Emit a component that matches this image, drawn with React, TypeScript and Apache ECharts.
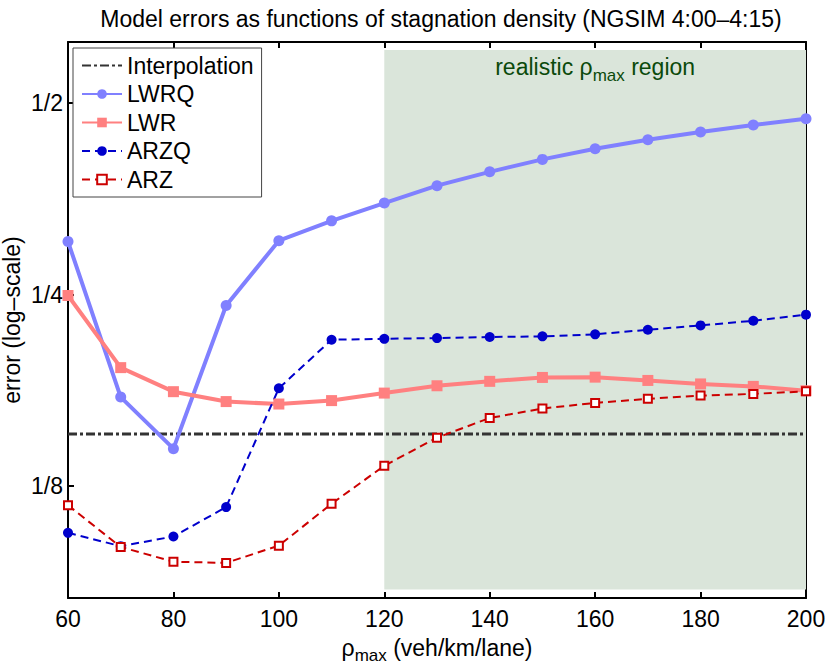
import React, { useEffect, useRef } from "react";
import * as echarts from "echarts";

const rhoMax = [60, 70, 80, 90, 100, 110, 120, 130, 140, 150, 160, 170, 180, 190, 200];
const lwrq = [0.303, 0.1726, 0.1432, 0.2404, 0.304, 0.3266, 0.3483, 0.371, 0.39, 0.408, 0.424, 0.438, 0.4506, 0.462, 0.4727];
const lwr = [0.2493, 0.192, 0.176, 0.1698, 0.1683, 0.1704, 0.1751, 0.1798, 0.1827, 0.1853, 0.1855, 0.1833, 0.181, 0.1794, 0.1766];
const arzq = [0.1056, 0.1006, 0.1042, 0.1159, 0.1782, 0.2124, 0.2131, 0.2137, 0.2145, 0.215, 0.2166, 0.2202, 0.2237, 0.2275, 0.2326];
const arz = [0.1167, 0.1003, 0.0951, 0.0947, 0.1008, 0.1173, 0.1346, 0.149, 0.16, 0.1656, 0.169, 0.1715, 0.1735, 0.1746, 0.1762];
const interpolation = 0.151;
const realisticRange = [120, 200];
const regionY = [0.086, 0.606];
const yTicks = [0.125, 0.25, 0.5];
const yTickLabels = ["1/8", "1/4", "1/2"];
const yRange = [0.0834, 0.624];
const xRange = [60, 200];

const FONT = "'Liberation Sans', Arial, Helvetica, sans-serif";
const FS = 23;
const SUB = 17;

const pair = (ys: number[]) => rhoMax.map((x, i) => [x, ys[i]]);

const tickFmt = (v: number) => {
  for (let i = 0; i < yTicks.length; i++) {
    if (Math.abs(v - yTicks[i]) < 1e-6) return yTickLabels[i];
  }
  return "";
};

export default function App() {
  const ref = useRef<HTMLDivElement>(null);
  useEffect(() => {
    document.body.style.margin = "0";
    const chart = echarts.init(ref.current!, null, { renderer: "svg" });
    const axisLine = { show: true, lineStyle: { color: "#000", width: 2 } };
    const xTick = { show: true, inside: true, length: 6, lineStyle: { color: "#000", width: 2 } };
    const yTick = { show: true, inside: true, length: 6, customValues: yTicks, lineStyle: { color: "#000", width: 2 } };
    const option: any = {
      animation: false,
      backgroundColor: "#fff",
      textStyle: { fontFamily: FONT },
      title: {
        text: "Model errors as functions of stagnation density (NGSIM 4:00\u20134:15)",
        left: 436,
        textAlign: "center",
        top: 2,
        textStyle: { fontSize: FS, fontWeight: "normal", color: "#000", fontFamily: FONT },
      },
      grid: { left: 68, right: 24, top: 42, bottom: 67, containLabel: false, outerBoundsMode: "none" },
      legend: {
        data: [
          { name: "Interpolation", itemStyle: { opacity: 0 } },
          "LWRQ",
          "LWR",
          "ARZQ",
          "ARZ",
        ],
        orient: "vertical",
        left: 73,
        top: 48,
        padding: [6, 8, 6, 8],
        itemGap: 5.5,
        itemWidth: 40,
        itemHeight: 12,
        borderColor: "#444",
        borderWidth: 1,
        backgroundColor: "#fff",
        borderRadius: 0,
        selectedMode: false,
        textStyle: { fontSize: FS, color: "#000", fontFamily: FONT },
      },
      xAxis: [
        {
          type: "value",
          min: xRange[0],
          max: xRange[1],
          interval: 20,
          position: "bottom",
          name: "{g|\u03c1}{s|max}{g| (veh/km/lane)}",
          nameLocation: "middle",
          nameGap: 38,
          nameMoveOverlap: false,
          nameTextStyle: {
            color: "#000",
            fontFamily: FONT,
            rich: {
              g: { fontSize: FS, verticalAlign: "top", fontFamily: FONT, color: "#000" },
              s: { fontSize: SUB, verticalAlign: "bottom", padding: [11, 0, 0, 0], fontFamily: FONT, color: "#000" },
            },
          },
          axisLine,
          axisTick: xTick,
          axisLabel: { fontSize: FS, color: "#000", margin: 9, fontFamily: FONT },
          splitLine: { show: false },
        },
        {
          type: "value",
          min: xRange[0],
          max: xRange[1],
          interval: 20,
          position: "top",
          axisLine,
          axisTick: xTick,
          axisLabel: { show: false },
          splitLine: { show: false },
        },
      ],
      yAxis: [
        {
          type: "log",
          logBase: 2,
          min: yRange[0],
          max: yRange[1],
          position: "left",
          name: "error (log\u2013scale)",
          nameLocation: "middle",
          nameGap: 45,
          nameMoveOverlap: false,
          nameTextStyle: { fontSize: FS, color: "#000", fontFamily: FONT },
          axisLine,
          axisTick: yTick,
          axisLabel: { fontSize: FS, color: "#000", margin: 5, customValues: yTicks, formatter: tickFmt, fontFamily: FONT },
          splitLine: { show: false },
        },
        {
          type: "log",
          logBase: 2,
          min: yRange[0],
          max: yRange[1],
          position: "right",
          axisLine,
          axisTick: yTick,
          axisLabel: { show: false, customValues: yTicks, formatter: tickFmt },
          splitLine: { show: false },
        },
      ],
      series: [
        {
          type: "line",
          name: "region",
          data: [],
          silent: true,
          markArea: {
            silent: true,
            itemStyle: { color: "#dae5da" },
            label: {
              show: true,
              position: "insideTop",
              distance: 5,
              formatter: "{g|realistic \u03c1}{s|max}{g| region}",
              rich: {
                g: { fontSize: FS, verticalAlign: "top", color: "#0b4a0b", fontFamily: FONT },
                s: { fontSize: SUB, verticalAlign: "bottom", padding: [12, 0, 0, 0], color: "#0b4a0b", fontFamily: FONT },
              },
            },
            data: [[{ xAxis: realisticRange[0], yAxis: regionY[0] }, { xAxis: realisticRange[1], yAxis: regionY[1] }]],
          },
        },
        {
          type: "line",
          name: "Interpolation",
          data: [[xRange[0], interpolation], [xRange[1], interpolation]],
          symbol: "none",
          color: "#333",
          lineStyle: { color: "#333", width: 3, type: [9, 3, 3, 3] },
          silent: true,
        },
        {
          type: "line",
          name: "LWRQ",
          data: pair(lwrq),
          symbol: "circle",
          symbolSize: 11,
          color: "#8080ff",
          itemStyle: { color: "#8080ff" },
          lineStyle: { color: "#8080ff", width: 4 },
          silent: true,
        },
        {
          type: "line",
          name: "LWR",
          data: pair(lwr),
          symbol: "rect",
          symbolSize: 11,
          color: "#ff8080",
          itemStyle: { color: "#ff8080" },
          lineStyle: { color: "#ff8080", width: 4 },
          silent: true,
        },
        {
          type: "line",
          name: "ARZQ",
          data: pair(arzq),
          symbol: "circle",
          symbolSize: 10,
          color: "#0000cc",
          itemStyle: { color: "#0000cc" },
          lineStyle: { color: "#0000cc", width: 2, type: [8, 5] },
          silent: true,
        },
        {
          type: "line",
          name: "ARZ",
          data: pair(arz),
          symbol: "emptyRect",
          symbolSize: 8,
          color: "#cc0000",
          itemStyle: { color: "#cc0000", borderColor: "#cc0000", borderWidth: 2 },
          lineStyle: { color: "#cc0000", width: 2, type: [8, 5] },
          silent: true,
        },
      ],
    };
    chart.setOption(option);
    return () => chart.dispose();
  }, []);
  return <div ref={ref} style={{ width: 830, height: 665 }} />;
}
